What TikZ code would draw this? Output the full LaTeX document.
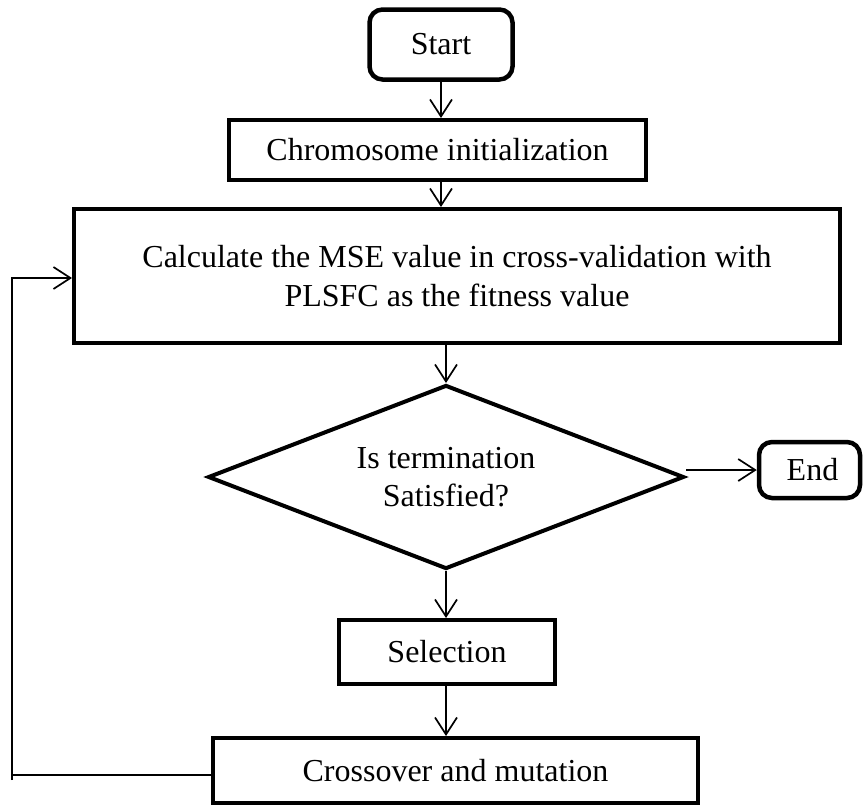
\documentclass[tikz,border=0pt]{standalone}
\usepackage{fontspec}
\setmainfont{Liberation Serif}
\usetikzlibrary{arrows.meta,shapes.geometric}
\begin{document}
\begin{tikzpicture}[x=1pt,y=-1pt,
  font=\fontsize{32}{38.5}\selectfont,
  box/.style={draw,line width=4pt,rectangle,inner sep=0pt,align=center},
  rbox/.style={box,rounded corners=13pt,line width=4.5pt},
  decision/.style={draw,line width=4pt,diamond,aspect=2.6,inner sep=0pt,align=center,
     minimum width=476pt,minimum height=184pt},
  conn/.style={line width=1.7pt,-{Straight Barb[length=17pt,width=22pt,line width=1.7pt]}},
  plain/.style={line width=1.7pt}]
\useasboundingbox (0,0) rectangle (866,806);
\node[rbox,minimum width=143pt,minimum height=70pt] (start) at (441,44.5) {Start};
\node[box,minimum width=417pt,minimum height=60pt] (chrom) at (437.5,150) {Chromosome initialization};
\node[box,minimum width=766pt,minimum height=134pt] (calc) at (457,276)
  {Calculate the MSE value in cross-validation with\\PLSFC as the fitness value};
\node[decision] (dia) at (446,477) {Is termination\\Satisfied?};
\node[rbox,minimum width=101pt,minimum height=56pt] (endn) at (809.5,470) {\hspace*{6pt}End};
\node[box,minimum width=216pt,minimum height=64pt] (sel) at (447,652) {Selection};
\node[box,minimum width=485pt,minimum height=65pt] (cross) at (455.5,770.5) {Crossover and mutation};
\coordinate (lb) at (12,780);
\coordinate (lt) at (12,278);
\draw[conn] (start.south) -- (start.south |- chrom.north);
\draw[conn] (start.south |- chrom.south) -- (start.south |- calc.north);
\draw[conn] (dia.north |- calc.south) -- (dia.north);
\draw[conn] (dia.east |- endn.west) -- (endn.west);
\draw[conn] (dia.south) -- (dia.south |- sel.north);
\draw[conn] (dia.south |- sel.south) -- (dia.south |- cross.north);
\draw[plain] ([yshift=-4.5pt]cross.west) -- ([yshift=-4.5pt]cross.west -| lb);
\draw[conn] (lb) -- (lt) -- (calc.west |- lt);
\end{tikzpicture}
\end{document}
